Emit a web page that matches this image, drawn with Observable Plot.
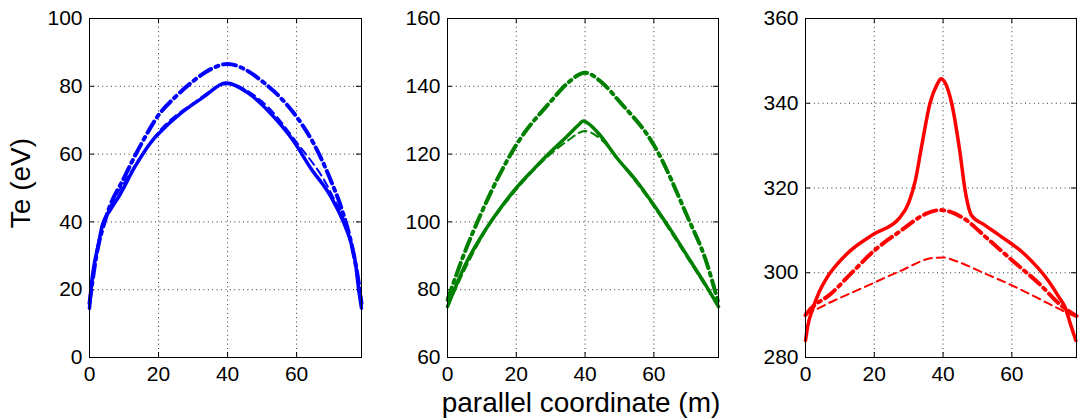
<!DOCTYPE html>
<html>
<head>
<meta charset="utf-8">
<script src="https://cdn.jsdelivr.net/npm/d3@7"></script>
<script src="https://cdn.jsdelivr.net/npm/@observablehq/plot@0.6"></script>
<style>
  html, body { margin: 0; padding: 0; background: #fff; }
  #wrap { position: relative; width: 1089px; height: 420px; overflow: hidden; background: #fff;
          font-family: "Liberation Sans", Arial, Helvetica, sans-serif; color: #000; }
  #wrap svg { position: absolute; top: 0; }
  .lbl { position: absolute; font-size: 28px; line-height: 28px; white-space: nowrap; }
</style>
</head>
<body>
<div id="wrap">
  <div class="lbl" id="ylab" style="left:20.5px; top:183px; transform: translate(-50%,-50%) rotate(-90deg);">Te (eV)</div>
  <div class="lbl" id="xlab" style="left:581px; top:389px; transform: translateX(-50%);">parallel coordinate (m)</div>
</div>
<script>
// ---------- tick labels ----------
const xTicks = [0, 20, 40, 60];
const yTicks1 = [0, 20, 40, 60, 80, 100];
const yTicks2 = [60, 80, 100, 120, 140, 160];
const yTicks3 = [280, 300, 320, 340, 360];

// ---------- panel 1 (blue) ----------
const p1SolidX = [0, 0.5, 1.2, 2.5, 3.7, 6, 8.5, 13.3, 18.2, 20, 26.4, 33, 39.5, 46, 52, 59, 64, 70, 74.2, 76, 77.1, 78, 78.8];
const p1SolidY = [14.5, 21, 26.5, 33, 39, 43.5, 47.5, 56.5, 64, 66, 72, 76.8, 81, 78, 72.5, 64, 56, 47.3, 38.4, 33, 27.6, 20, 14.5];
const p1DashDotX = [0, 2, 5, 10, 15, 20, 25, 30, 35, 40, 45, 50, 55, 60, 65, 70, 73, 76, 78, 78.8];
const p1DashDotY = [16, 30, 42, 53, 63, 71.5, 77, 81.5, 85, 86.6, 85, 81.5, 77, 71, 63, 52, 44, 33, 22, 16];
const p1DashX = [0, 1, 3, 6, 10, 15, 20, 30, 40, 50, 60, 70, 75, 77.5, 78.8];
const p1DashY = [15, 24, 36, 44.5, 51.5, 59.5, 66.5, 75, 80.6, 75.5, 63.5, 48.5, 36.5, 25, 15];

// ---------- panel 2 (green) ----------
const p2SolidX = [0, 5, 10, 15, 20, 25, 30, 35, 38, 39.5, 41, 44, 49.4, 55, 60, 65, 70, 75, 78.8];
const p2SolidY = [75, 87, 96, 103.5, 110, 115.5, 120.7, 125.5, 128.5, 129.8, 129, 126, 118.7, 112, 105, 97.5, 89.5, 81.5, 75];
const p2DashDotX = [0, 5, 10, 20, 30, 35, 40, 45, 50, 60, 70, 75, 78.8];
const p2DashDotY = [77, 91, 103, 122.7, 135.5, 141, 144, 141, 135.5, 122.7, 101, 89, 76];
const p2DashX = [0, 10, 20, 30, 35, 40, 45, 50, 60, 70, 78.8];
const p2DashY = [75, 95.5, 109.5, 120, 124, 126.8, 124, 118, 104.5, 89, 75];

// ---------- panel 3 (red) ----------
const p3SolidX = [0, 0.8, 1.9, 4, 6.2, 9.5, 12.9, 19.6, 27.3, 30, 32, 33.8, 36.2, 38.3, 39.4, 40.5, 42.5, 44.9, 46.4, 48.3, 52, 56.1, 63.8, 70.7, 73.5, 75.5, 77, 78.6];
const p3SolidY = [284, 288, 291, 295.5, 298.8, 302.3, 305.1, 309, 312.9, 316.5, 322, 330, 340, 344.5, 345.8, 345, 340, 328.5, 319.5, 313.5, 311.3, 309, 304.3, 298, 294.5, 291.8, 288, 284];
const p3DashDotX = [0, 1.4, 7.2, 13, 19.8, 27.5, 35.3, 39.1, 45.9, 52.7, 60.4, 68.1, 73.9, 77.8, 78.8];
const p3DashDotY = [290, 291.4, 294.9, 299.6, 305.1, 309.8, 314, 314.8, 312.9, 308.2, 302.7, 297.3, 292.6, 290.3, 289.8];
const p3DashX = [0, 0.5, 8.2, 17.9, 27.5, 37.2, 40.1, 43.9, 51.7, 61.4, 71, 77.8, 78.8];
const p3DashY = [290.5, 290.6, 293.4, 296.9, 300.4, 303.5, 303.6, 302.7, 300, 296.5, 292.6, 289.9, 289.6];

const xDomain = [0, 78.8];
const H = 420, MT = 18, MB = 63, MR = 2;

function panel({left, width, marginLeft, yDomain, yTicks, color, solid, dashdot, dash}) {
  const frameW = width - marginLeft - MR;
  const frameH = H - MT - MB;
  const curve = "monotone-x";
  const chart = Plot.plot({
    width, height: H, marginTop: MT, marginBottom: MB, marginLeft, marginRight: MR,
    style: {fontFamily: "'Liberation Sans', Arial, Helvetica, sans-serif", fontSize: "21px", color: "#000", background: "transparent", overflow: "visible"},
    x: {domain: xDomain},
    y: {domain: yDomain},
    marks: [
      Plot.gridX(xTicks.slice(1), {stroke: "#333", strokeOpacity: 1, strokeWidth: 1, strokeDasharray: "1,3.4"}),
      Plot.gridY(yTicks.slice(1, -1), {stroke: "#333", strokeOpacity: 1, strokeWidth: 1, strokeDasharray: "1,3.4"}),
      Plot.tickX(xTicks.slice(1), {x: d => d, stroke: "#000", insetTop: frameH - 5}),
      Plot.tickX(xTicks.slice(1), {x: d => d, stroke: "#000", insetBottom: frameH - 5}),
      Plot.tickY(yTicks.slice(1, -1), {y: d => d, stroke: "#000", insetRight: frameW - 5}),
      Plot.tickY(yTicks.slice(1, -1), {y: d => d, stroke: "#000", insetLeft: frameW - 5}),
      Plot.line(d3.zip(dash[0], dash[1]), {x: d => d[0], y: d => d[1], stroke: color, strokeWidth: 2, strokeDasharray: "8,5", curve}),
      Plot.line(d3.zip(dashdot[0], dashdot[1]), {x: d => d[0], y: d => d[1], stroke: color, strokeWidth: 4, strokeDasharray: "13,5,3,5", curve}),
      Plot.line(d3.zip(solid[0], solid[1]), {x: d => d[0], y: d => d[1], stroke: color, strokeWidth: 3.5, curve}),
      Plot.frame({stroke: "#000", strokeWidth: 1}),
      Plot.axisX(xTicks, {tickSize: 0, tickPadding: 9, label: null, fontSize: 21}),
      Plot.axisY(yTicks, {tickSize: 0, tickPadding: 7, label: null, fontSize: 21})
    ]
  });
  chart.style.left = left + "px";
  document.getElementById("wrap").appendChild(chart);
}

panel({left: 0, width: 363, marginLeft: 89, yDomain: [0, 100], yTicks: yTicks1, color: "#0000ff",
  solid: [p1SolidX, p1SolidY], dashdot: [p1DashDotX, p1DashDotY], dash: [p1DashX, p1DashY]});
panel({left: 400, width: 320, marginLeft: 47, yDomain: [60, 160], yTicks: yTicks2, color: "#008000",
  solid: [p2SolidX, p2SolidY], dashdot: [p2DashDotX, p2DashDotY], dash: [p2DashX, p2DashY]});
panel({left: 760, width: 318, marginLeft: 45, yDomain: [280, 360], yTicks: yTicks3, color: "#ff0000",
  solid: [p3SolidX, p3SolidY], dashdot: [p3DashDotX, p3DashDotY], dash: [p3DashX, p3DashY]});
</script>
</body>
</html>
